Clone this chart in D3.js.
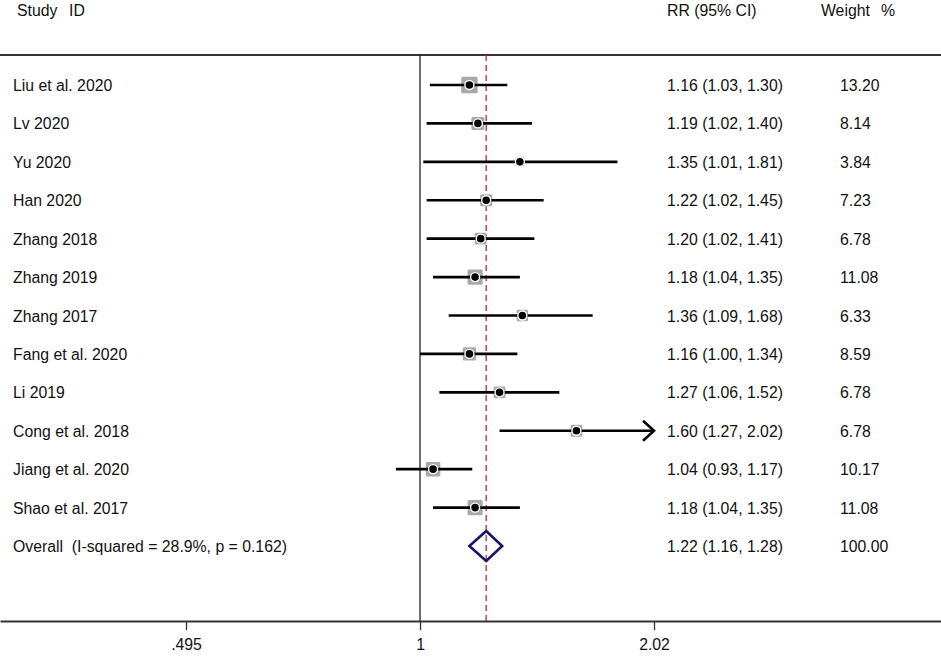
<!DOCTYPE html>
<html>
<head>
<meta charset="utf-8">
<script src="https://cdn.jsdelivr.net/npm/d3@7"></script>
<style>
  body { margin: 0; background: #fff; }
  text { font-family: "Liberation Sans", Arial, sans-serif; fill: #111; white-space: pre; }
</style>
</head>
<body>
<div id="chart"></div>
<script>
// Study data
var studies = ['Liu et al. 2020', 'Lv 2020', 'Yu 2020', 'Han 2020', 'Zhang 2018', 'Zhang 2019',
    'Zhang 2017', 'Fang et al. 2020', 'Li 2019', 'Cong et al. 2018', 'Jiang et al. 2020', 'Shao et al. 2017'];
var rr = [1.16, 1.19, 1.35, 1.22, 1.20, 1.18, 1.36, 1.16, 1.27, 1.60, 1.04, 1.18];
var lo = [1.03, 1.02, 1.01, 1.02, 1.02, 1.04, 1.09, 1.00, 1.06, 1.27, 0.93, 1.04];
var hi = [1.30, 1.40, 1.81, 1.45, 1.41, 1.35, 1.68, 1.34, 1.52, 2.02, 1.17, 1.35];
var weights = [13.20, 8.14, 3.84, 7.23, 6.78, 11.08, 6.33, 8.59, 6.78, 6.78, 10.17, 11.08];

// Pooled estimate
var overallLabel = 'Overall  (I-squared = 28.9%, p = 0.162)';
var overall = {rr: 1.22, lo: 1.16, hi: 1.28, weight: 100.00};

// Axis ticks
var tickVals = [0.495, 1, 2.02];
var tickLabels = ['.495', '1', '2.02'];

var width = 941, height = 657;
var topLine = 55, axisY = 621;
var fs = 15.8;

var svg = d3.select('#chart').append('svg')
    .attr('width', width)
    .attr('height', height);

// Log scale: .495 -> 186, 2.02 -> 654, then stretched to the full width
var base = d3.scaleLog().domain([0.495, 2.02]).range([186, 654]);
var x = d3.scaleLog().domain([base.invert(0), base.invert(width)]).range([0, width]);

var y = d3.scaleLinear().domain([0, studies.length]).range([85, 546]);
var boxSize = d3.scaleSqrt().domain([0, 13.2]).range([0, 16.5]);
var fmt = d3.format('.2f');

// Column headers
var header = svg.append('g').attr('font-size', fs);
header.append('text').attr('x', 17).attr('y', 16).text('Study');
header.append('text').attr('x', 69).attr('y', 16).text('ID');
header.append('text').attr('x', 667).attr('y', 16).text('RR (95% CI)');
header.append('text').attr('x', 821).attr('y', 16).text('Weight');
header.append('text').attr('x', 881).attr('y', 16).text('%');

// Top rule
svg.append('line')
    .attr('x1', 0).attr('x2', width)
    .attr('y1', topLine).attr('y2', topLine)
    .attr('stroke', '#333').attr('stroke-width', 2);

// No-effect line
svg.append('line')
    .attr('x1', x(1)).attr('x2', x(1))
    .attr('y1', topLine).attr('y2', axisY)
    .attr('stroke', '#222').attr('stroke-width', 1.3);

// Pooled estimate line
svg.append('line')
    .attr('x1', x(overall.rr)).attr('x2', x(overall.rr))
    .attr('y1', topLine).attr('y2', axisY)
    .attr('stroke', '#c0283a').attr('stroke-width', 1.3)
    .attr('stroke-dasharray', '6,4');

// Axis
var xAxis = d3.axisBottom(x)
    .tickValues(tickVals)
    .tickFormat(function(d, i) { return tickLabels[i]; })
    .tickSize(9)
    .tickSizeOuter(0);

var axisG = svg.append('g')
    .attr('transform', 'translate(0,' + axisY + ')')
    .call(xAxis);
axisG.select('.domain').attr('stroke', '#333').attr('stroke-width', 2);
axisG.selectAll('.tick line').attr('stroke', '#333').attr('stroke-width', 1.3);
axisG.selectAll('.tick text')
    .attr('font-size', fs)
    .attr('font-family', '"Liberation Sans", Arial, sans-serif')
    .attr('fill', '#111')
    .attr('dy', '1.1em');

// Study rows
var rows = svg.selectAll('.row')
    .data(studies.map(function(s, i) {
        return {study: s, rr: rr[i], lo: lo[i], hi: hi[i], w: weights[i], i: i};
    }))
    .enter().append('g')
    .attr('class', 'row')
    .attr('transform', function(d) { return 'translate(0,' + y(d.i) + ')'; });

rows.append('text')
    .attr('x', 13).attr('y', 6)
    .attr('font-size', fs)
    .text(function(d) { return d.study; });

rows.append('text')
    .attr('x', 667).attr('y', 6)
    .attr('font-size', fs)
    .text(function(d) { return fmt(d.rr) + ' (' + fmt(d.lo) + ', ' + fmt(d.hi) + ')'; });

rows.append('text')
    .attr('x', 840).attr('y', 6)
    .attr('font-size', fs)
    .text(function(d) { return fmt(d.w); });

// Weight boxes
rows.append('rect')
    .attr('x', function(d) { return x(d.rr) - boxSize(d.w) / 2; })
    .attr('y', function(d) { return -boxSize(d.w) / 2; })
    .attr('width', function(d) { return boxSize(d.w); })
    .attr('height', function(d) { return boxSize(d.w); })
    .attr('rx', 1.5)
    .attr('fill', '#a9a9a9');

// CI lines
rows.append('line')
    .attr('x1', function(d) { return x(d.lo); })
    .attr('x2', function(d) { return x(d.hi); })
    .attr('y1', 0).attr('y2', 0)
    .attr('stroke', '#000').attr('stroke-width', 2.6);

// Arrow where CI reaches the end of the plotted range
var maxTick = d3.max(tickVals);
rows.filter(function(d) { return d.hi >= maxTick; })
    .append('path')
    .attr('d', function(d) {
        var tip = x(d.hi);
        return 'M' + (tip - 11) + ',-10L' + tip + ',0L' + (tip - 11) + ',10';
    })
    .attr('fill', 'none')
    .attr('stroke', '#000').attr('stroke-width', 2.6);

// Point estimates
rows.append('circle')
    .attr('cx', function(d) { return x(d.rr); })
    .attr('cy', 0)
    .attr('r', 4.5)
    .attr('fill', '#000')
    .attr('stroke', '#fff').attr('stroke-width', 1.4);

// Overall row
var oy = y(studies.length);
var og = svg.append('g').attr('transform', 'translate(0,' + oy + ')');
og.append('text').attr('x', 13).attr('y', 6).attr('font-size', fs).text(overallLabel);
og.append('text').attr('x', 667).attr('y', 6).attr('font-size', fs)
    .text(fmt(overall.rr) + ' (' + fmt(overall.lo) + ', ' + fmt(overall.hi) + ')');
og.append('text').attr('x', 840).attr('y', 6).attr('font-size', fs).text(fmt(overall.weight));

og.append('path')
    .attr('d', 'M' + x(overall.lo) + ',0L' + x(overall.rr) + ',-15L' + x(overall.hi) + ',0L' + x(overall.rr) + ',15Z')
    .attr('fill', 'none')
    .attr('stroke', '#14146b').attr('stroke-width', 2.6);
</script>
</body>
</html>
